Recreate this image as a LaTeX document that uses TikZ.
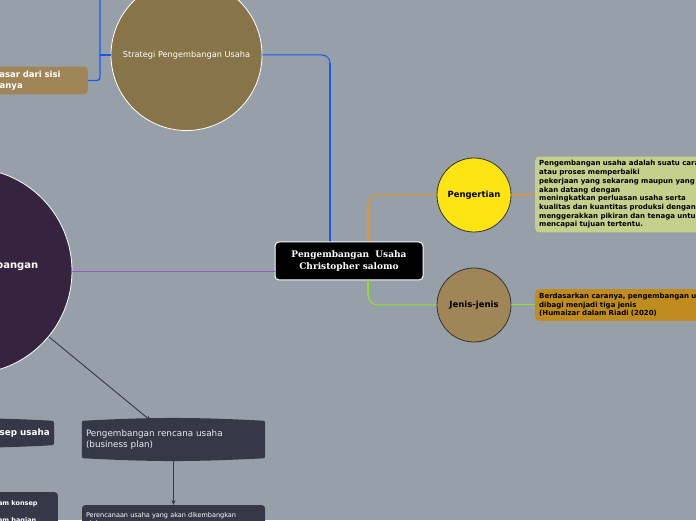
\documentclass[tikz,border=0pt]{standalone}
\usepackage{fontspec}
\setmainfont{DejaVu Sans}
\newfontfamily\judulfont{DejaVu Serif}
\usetikzlibrary{positioning,arrows.meta,calc}
\pgfdeclarelayer{belakang}
\pgfsetlayers{belakang,main}
\definecolor{petabg}{RGB}{151,160,168}
\definecolor{biru}{RGB}{25,85,250}
\definecolor{jingga}{RGB}{232,150,40}
\definecolor{hijau}{RGB}{140,228,40}
\definecolor{ungu}{RGB}{150,90,200}
\definecolor{coklat}{RGB}{135,116,72}
\definecolor{coklatmuda}{RGB}{160,133,88}
\definecolor{ungutua}{RGB}{53,35,64}
\definecolor{kuning}{RGB}{255,228,20}
\definecolor{hijaumuda}{RGB}{196,208,140}
\definecolor{emas}{RGB}{192,140,30}
\definecolor{gelap}{RGB}{54,56,72}
\definecolor{garis}{RGB}{55,55,70}
\tikzset{
  pusatbox/.style={draw=white,line width=1pt,fill=black,rounded corners=4pt,
               minimum width=148pt,minimum height=38pt,text=white,align=center,
               font=\judulfont\bfseries\fontsize{9}{12.5}\selectfont},
  bulat/.style={circle,inner sep=1pt,align=center},
  topik/.style={bulat,draw=white,line width=0.8pt,text=white},
  subbulat/.style={bulat,draw=black!80,line width=0.8pt,minimum size=74pt,
               font=\bfseries\fontsize{8.5}{10}\selectfont},
  catatan/.style={rounded corners=4pt,align=left,inner sep=4pt,
               font=\bfseries\fontsize{7}{8.7}\selectfont},
  pita/.style={align=left,inner sep=4pt,text=white!90!gelap},
  kotakbawah/.style={fill=gelap,rounded corners=3pt,align=left,inner sep=4pt,
               text=white,anchor=north},
  arr/.style={-{Stealth[length=5pt,width=4pt]},garis,line width=0.9pt},
}
\begin{document}
\begin{tikzpicture}[x=1pt,y=1pt]
  \useasboundingbox (0,0) rectangle (696,520);
  \clip (0,0) rectangle (696,520);
  \begin{pgfonlayer}{belakang}
    \fill[petabg] (0,0) rectangle (696,520);
  \end{pgfonlayer}

  % pusat
  \node[pusatbox] (pusat) at (349,259) {Pengembangan~~Usaha\\Christopher salomo};

  % cabang kiri atas
  \node[topik,fill=coklat,minimum size=151pt,font=\fontsize{8.2}{10}\selectfont]
    (strategi) at (186.5,465) {Strategi Pengembangan Usaha};
  \node[catatan,fill=coklatmuda,text=white,anchor=east,text width=107pt,
        minimum height=27pt,font=\bfseries\fontsize{8.5}{11.5}\selectfont]
    (dasar) at (88,439.5) {Berdasar dari sisi\\usahanya};
  \coordinate (atas) at (100,525);

  % cabang kiri
  \node[topik,fill=ungutua,minimum size=206pt,font=\bfseries\fontsize{10}{12}\selectfont]
    (tahap) at (-31,249) {Tahapan Pengembangan\\Usaha};
  \node[pita,text width=175pt,minimum height=37pt,font=\fontsize{8.8}{11}\selectfont]
    (rencana) at (173.5,80.5) {Pengembangan rencana usaha\\(business plan)};
  \node[pita,text=white,anchor=east,minimum height=24pt,font=\bfseries\fontsize{8.8}{11}\selectfont]
    (konsep) at (54,87) {Pengembangan konsep usaha};
  \node[kotakbawah,text width=175pt,minimum height=30pt,font=\fontsize{6.5}{8}\selectfont]
    (rencanaket) at (173.5,15) {Perencanaan usaha yang akan dikembangkan\\oleh seorang};
  \node[kotakbawah,anchor=north east,text width=67pt,minimum height=40pt,inner ysep=2pt,
        font=\bfseries\fontsize{6.5}{8}\selectfont]
    (konsepket) at (58,28) {dalam konsep\\[9pt]dalam bagian};

  % cabang kanan
  \node[subbulat,fill=kuning] (pengertian) at (474,325) {Pengertian};
  \node[subbulat,fill=coklatmuda] (jenis) at (474,215) {Jenis-jenis};
  \node[catatan,fill=hijaumuda,anchor=west,text width=175pt,minimum height=73pt]
    (definisi) at (535,325.5) {Pengembangan usaha adalah suatu cara\\
      atau proses memperbaiki\\
      pekerjaan yang sekarang maupun yang\\
      akan datang dengan\\
      meningkatkan perluasan usaha serta\\
      kualitas dan kuantitas produksi dengan\\
      menggerakkan pikiran dan tenaga untuk\\
      mencapai tujuan tertentu.};
  \node[catatan,fill=emas,anchor=west,text width=200pt,minimum height=30pt]
    (jenisket) at (535,215) {Berdasarkan caranya, pengembangan usaha\\
      dibagi menjadi tiga jenis\\
      (Humaizar dalam Riadi (2020)};

  % bentuk pita
  \begin{pgfonlayer}{belakang}
    \foreach \n in {rencana,konsep}
      \fill[gelap,rounded corners=2pt] (\n.north west) to[bend left=3] (\n.north east)
        -- (\n.south east) to[bend left=3] (\n.south west) -- cycle;
  \end{pgfonlayer}

  % garis
  \draw[biru,line width=1pt,rounded corners=8pt] ([xshift=-19pt]pusat.north) |- (strategi.east);
  \draw[biru,line width=2.2pt] ([xshift=-19pt]pusat.north) -- ++(0,178);
  \draw[biru,line width=1.3pt] (strategi.west) -- (strategi.west -| atas);
  \draw[biru,line width=1.3pt,rounded corners=3pt] (atas) |- (dasar.east);
  \draw[ungu,line width=0.8pt] (tahap.east) -- (tahap.east -| pusat.west);
  \draw[arr] (tahap) -- (rencana);
  \draw[arr] (rencana) -- (rencanaket);
  \draw[jingga,line width=1pt,rounded corners=10pt] ([xshift=19pt]pusat.north) |- (pengertian.west);
  \draw[jingga,line width=2pt] ([xshift=19pt]pusat.north) -- ++(0,35);
  \draw[jingga,line width=1.2pt] (pengertian.east) -- (definisi.west);
  \draw[hijau,line width=1pt,rounded corners=10pt] ([xshift=19pt]pusat.south) |- (jenis.west);
  \draw[hijau,line width=2pt] ([xshift=19pt]pusat.south) -- ++(0,-15);
  \draw[hijau,line width=1pt] (jenis.east) -- (jenisket.west);
\end{tikzpicture}
\end{document}
